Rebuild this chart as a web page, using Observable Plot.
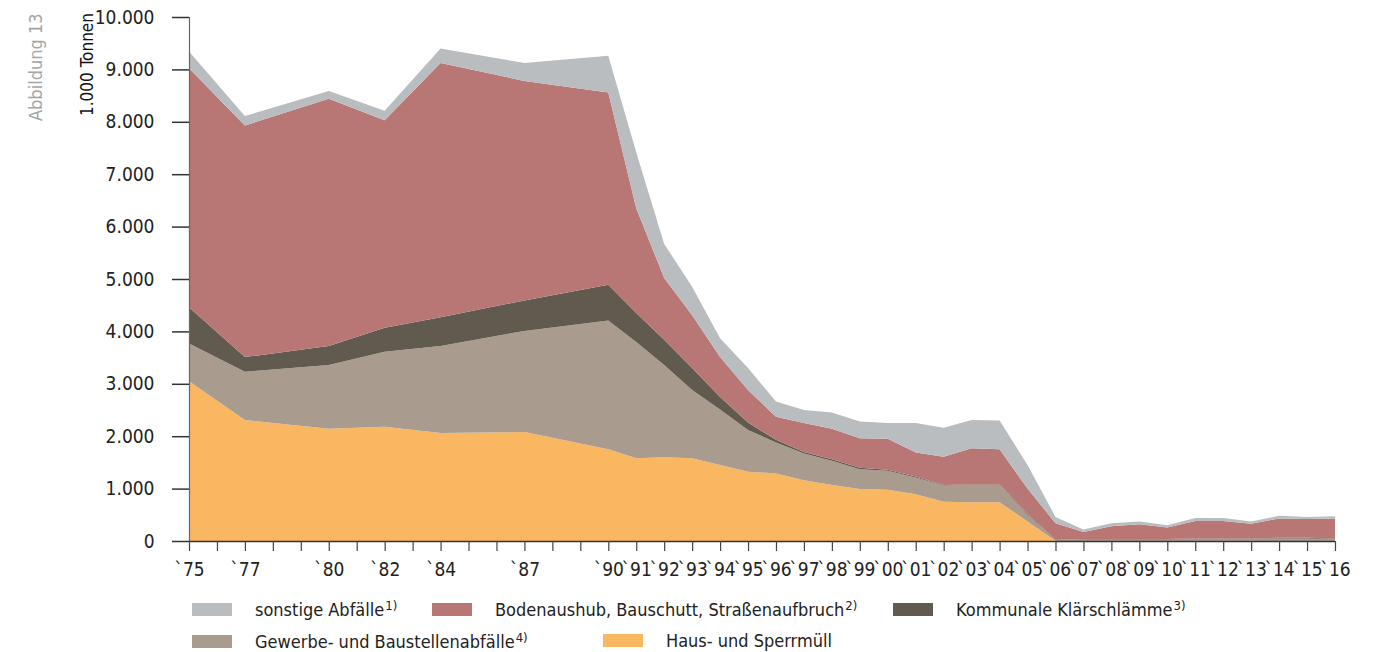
<!DOCTYPE html>
<html><head><meta charset="utf-8">
<script src="https://cdn.jsdelivr.net/npm/d3@7"></script>
<script src="https://cdn.jsdelivr.net/npm/@observablehq/plot@0.6"></script>
<style>
body{margin:0;background:#fff;}
#wrap{position:relative;width:1373px;height:652px;font-family:"Liberation Sans Narrow","DejaVu Sans Condensed","DejaVu Sans",sans-serif;font-stretch:condensed;color:#222;}
#chart{position:absolute;left:0;top:0;}
#chart svg{font-stretch:condensed;}
.rot{position:absolute;transform-origin:left top;transform:rotate(-90deg);white-space:nowrap;}
.leg{position:absolute;font-size:18px;white-space:nowrap;display:flex;align-items:center;}
.sw{display:inline-block;width:40px;height:13px;margin-right:23px;}
sup{font-size:13px;vertical-align:6px;margin-left:1px;}
</style></head><body><div id="wrap"><div id="chart"></div></div>
<script>
const years = [1975,1977,1980,1982,1984,1987,1990,1991,1992,1993,1994,1995,1996,1997,1998,1999,2000,2001,2002,2003,2004,2005,2006,2007,2008,2009,2010,2011,2012,2013,2014,2015,2016];
// values in 1.000 Tonnen
const haus     = [3050,2310,2140,2180,2060,2080,1750,1580,1600,1580,1450,1320,1290,1160,1070,990,980,890,750,740,740,370,0,0,0,0,0,0,0,0,0,0,0];
const gewerbe  = [720,920,1220,1430,1660,1930,2460,2220,1760,1300,1060,800,590,510,460,380,360,320,310,330,330,130,20,30,30,30,30,40,40,40,50,50,40];
const klaer    = [690,280,360,460,550,580,680,550,480,420,240,140,50,30,30,30,20,20,10,10,10,20,0,10,10,10,10,10,10,10,10,10,10];
const boden    = [4560,4420,4720,3960,4850,4190,3670,2000,1180,1010,760,620,440,550,580,560,590,460,540,690,670,480,320,130,240,280,220,330,330,280,370,360,380];
const sonstige = [320,180,150,180,280,340,700,1070,650,540,360,420,290,250,310,320,300,560,550,540,550,450,120,50,60,50,40,60,60,40,50,40,40];

const seriesNames = ["Haus- und Sperrmüll","Gewerbe- und Baustellenabfälle","Kommunale Klärschlämme","Bodenaushub, Bauschutt, Straßenaufbruch","sonstige Abfälle"];
const seriesValues = [haus, gewerbe, klaer, boden, sonstige];
const seriesColors = ["#f9b762","#a99c8e","#615a4e","#b87775","#b9bdc0"];
const legendRows = [
  [["sonstige Abfälle","1)"],["Bodenaushub, Bauschutt, Straßenaufbruch","2)"],["Kommunale Klärschlämme","3)"]],
  [["Gewerbe- und Baustellenabfälle","4)"],["Haus- und Sperrmüll",""]]
];
const tickYears = d3.range(1975, 2017);
const yTicks = d3.range(0, 10001, 1000);

const de = d3.formatLocale({decimal:",", thousands:".", grouping:[3], currency:["","€"]});
const fmt = de.format(",");

const data = years.flatMap((yr, i) => seriesNames.map((s, j) => ({year: yr, series: s, value: seriesValues[j][i]})));

const font = '"Liberation Sans Narrow","DejaVu Sans Condensed","DejaVu Sans",sans-serif';
const plot = Plot.plot({
  width: 1373, height: 590,
  marginTop: 17, marginBottom: 49, marginLeft: 189, marginRight: 38,
  style: {fontFamily: font, color: "#222", background: "#fff"},
  x: {domain: [1975, 2016]},
  y: {domain: [0, 10000]},
  color: {domain: seriesNames, range: seriesColors},
  marks: [
    Plot.areaY(data, {x: "year", y: "value", z: "series", fill: "series", order: seriesNames}),
    Plot.ruleX([1975], {stroke: "#666", strokeWidth: 1.2}),
    Plot.ruleY([0], {stroke: "#333", strokeWidth: 1.5}),
    Plot.axisY(yTicks, {tickSize: 17, tickPadding: 18, tickFormat: fmt, fontSize: 19, stroke: "#333", strokeWidth: 1.5, label: null}),
    Plot.axisX(tickYears, {tickSize: 10, tickPadding: 11, fontSize: 19, stroke: "#444", strokeWidth: 1.2, label: null,
      tickFormat: d => years.includes(d) ? "`" + String(d).slice(2) : ""})
  ]
});
const wrap = document.getElementById("wrap");
document.getElementById("chart").appendChild(plot);

function addRot(text, left, top, size, color, weight) {
  const d = document.createElement("div");
  d.className = "rot";
  d.textContent = text;
  d.style.cssText += `left:${left}px;top:${top}px;font-size:${size}px;color:${color};font-weight:${weight};`;
  wrap.appendChild(d);
  return d;
}
addRot("1.000 Tonnen", 77, 116, 17, "#111", "500");
addRot("Abbildung 13", 25, 121, 18, "#a5a5a5", "normal");

const legendPos = [[[192, 598], [432, 598], [893, 598]], [[192, 630], [603, 630]]];
legendRows.forEach((row, r) => row.forEach(([name, sup], k) => {
  const idx = seriesNames.indexOf(name);
  const d = document.createElement("div");
  d.className = "leg";
  d.style.left = legendPos[r][k][0] + "px";
  d.style.top = legendPos[r][k][1] + "px";
  d.innerHTML = `<span class="sw" style="background:${seriesColors[idx]}"></span><span>${name}${sup ? "<sup>" + sup + "</sup>" : ""}</span>`;
  wrap.appendChild(d);
}));
</script>
</body></html>
